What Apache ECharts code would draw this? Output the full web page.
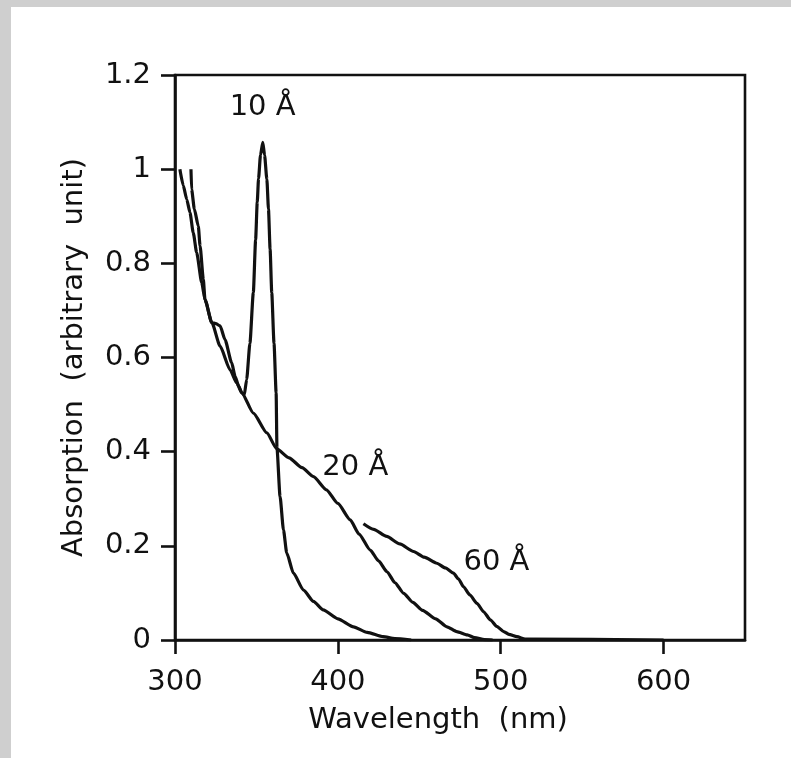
<!DOCTYPE html>
<html>
<head>
<meta charset="utf-8">
<script src="https://cdn.jsdelivr.net/npm/echarts@6/dist/echarts.min.js"></script>
<style>
html,body{margin:0;padding:0;background:#fff;}
#chart{position:absolute;left:0;top:0;width:791px;height:758px;}
.strip{position:absolute;background:#cfcfcf;z-index:5;pointer-events:none;}
</style>
</head>
<body>
<div id="chart"></div>
<div class="strip" style="left:0;top:0;width:791px;height:7px;"></div>
<div class="strip" style="left:0;top:0;width:11px;height:758px;"></div>
<script>
// x-axis ticks
const xTicks = [300, 400, 500, 600];
// 10 Å curve
const wl10 = [309.8, 310.2, 311.9, 314.3, 315.4, 317.4, 318.4, 322.6, 325, 327.7, 330.7, 334.8, 336.9, 339, 341, 342.5, 344, 346, 348.1, 349.5, 350.5, 351.3, 352.5, 353.9, 355, 356.4, 357.4, 358.4, 359.4, 360.8, 362.1, 362.6, 364.5, 366.6, 368.6, 372.7, 378.9, 385, 391, 400, 409.6, 418, 427.8, 435, 445];
const ab10 = [1.0, 0.957, 0.915, 0.879, 0.837, 0.766, 0.723, 0.674, 0.672, 0.667, 0.638, 0.589, 0.56, 0.54, 0.525, 0.52, 0.553, 0.63, 0.738, 0.85, 0.93, 0.98, 1.03, 1.057, 1.03, 0.979, 0.915, 0.83, 0.738, 0.63, 0.525, 0.408, 0.305, 0.234, 0.185, 0.142, 0.106, 0.082, 0.064, 0.045, 0.028, 0.016, 0.007, 0.003, 0];
// 20 Å curve
const wl20 = [303, 305.1, 307.2, 309.2, 311.2, 313.3, 316.4, 318.4, 322.6, 327.7, 333.8, 337.9, 341, 348.1, 356.4, 362.5, 370, 378, 385, 393, 400, 407.6, 413, 419.9, 425, 430.2, 435, 440.4, 446, 452, 460, 467, 473, 479.4, 484, 490, 495];
const ab20 = [1.0, 0.965, 0.936, 0.908, 0.865, 0.823, 0.759, 0.723, 0.674, 0.624, 0.574, 0.546, 0.525, 0.482, 0.44, 0.406, 0.387, 0.366, 0.347, 0.319, 0.29, 0.255, 0.225, 0.191, 0.168, 0.145, 0.122, 0.099, 0.08, 0.063, 0.045, 0.028, 0.018, 0.011, 0.005, 0.001, 0];
// 60 Å curve
const wl60 = [415.7, 422, 430, 438, 446.5, 453, 460.8, 466, 471, 474, 477.2, 481, 485.4, 489.5, 493.6, 497.5, 501.8, 505, 510, 515, 600];
const ab60 = [0.247, 0.235, 0.22, 0.204, 0.188, 0.176, 0.163, 0.153, 0.142, 0.13, 0.113, 0.096, 0.078, 0.06, 0.043, 0.029, 0.018, 0.012, 0.007, 0.002, 0];
// curve annotations
const labelNames = ['10 Å', '20 Å', '60 Å'];
const labelX = [353.8, 410.7, 497.4];
const labelY = [1.132, 0.367, 0.164];

const FONT = 'DejaVu Sans';
const FS = 29;
const pairs = (xs, ys) => xs.map((x, i) => [x, ys[i]]);
const lineStyle = {color: '#111', width: 3.2};

function seriesOf(name, xs, ys, idx) {
  return {
    name: name, type: 'line', data: pairs(xs, ys), showSymbol: false, symbol: 'none',
    smooth: 0.2, smoothMonotone: 'x',
    lineStyle: lineStyle, animation: false, z: 3,
    markPoint: {
      symbol: 'circle', symbolSize: 0, animation: false,
      label: {show: true, position: 'inside', color: '#111', fontFamily: FONT, fontSize: FS,
        formatter: function (p) { return p.name; }},
      data: [{name: labelNames[idx], coord: [labelX[idx], labelY[idx]]}]
    }
  };
}

const chart = echarts.init(document.getElementById('chart'), null, {renderer: 'canvas'});
chart.setOption({
  backgroundColor: '#fff',
  animation: false,
  grid: {left: 175, right: 46, top: 75, bottom: 118, show: true, borderColor: '#111', borderWidth: 2.6, backgroundColor: 'transparent'},
  xAxis: {
    type: 'value', min: 300, max: 650, interval: 100,
    name: 'Wavelength  (nm)', nameLocation: 'middle', nameGap: 66,
    nameTextStyle: {color: '#111', fontFamily: FONT, fontSize: FS, padding: [0, 44, 0, 0]},
    axisLine: {show: true, lineStyle: {color: '#111', width: 2.6}},
    axisTick: {show: true, length: 14, customValues: xTicks, lineStyle: {color: '#111', width: 2.6}},
    axisLabel: {color: '#111', fontFamily: FONT, fontSize: FS, margin: 28, customValues: xTicks},
    splitLine: {show: false}
  },
  yAxis: {
    type: 'value', min: 0, max: 1.2, interval: 0.2,
    name: 'Absorption  (arbitrary  unit)', nameLocation: 'middle', nameGap: 86,
    nameTextStyle: {color: '#111', fontFamily: FONT, fontSize: FS},
    axisLine: {show: true, lineStyle: {color: '#111', width: 2.6}},
    axisTick: {show: true, length: 14, lineStyle: {color: '#111', width: 2.6}},
    axisLabel: {color: '#111', fontFamily: FONT, fontSize: FS, margin: 24},
    splitLine: {show: false}
  },
  series: [
    seriesOf('10 Å', wl10, ab10, 0),
    seriesOf('20 Å', wl20, ab20, 1),
    seriesOf('60 Å', wl60, ab60, 2)
  ]
});
</script>
</body>
</html>
